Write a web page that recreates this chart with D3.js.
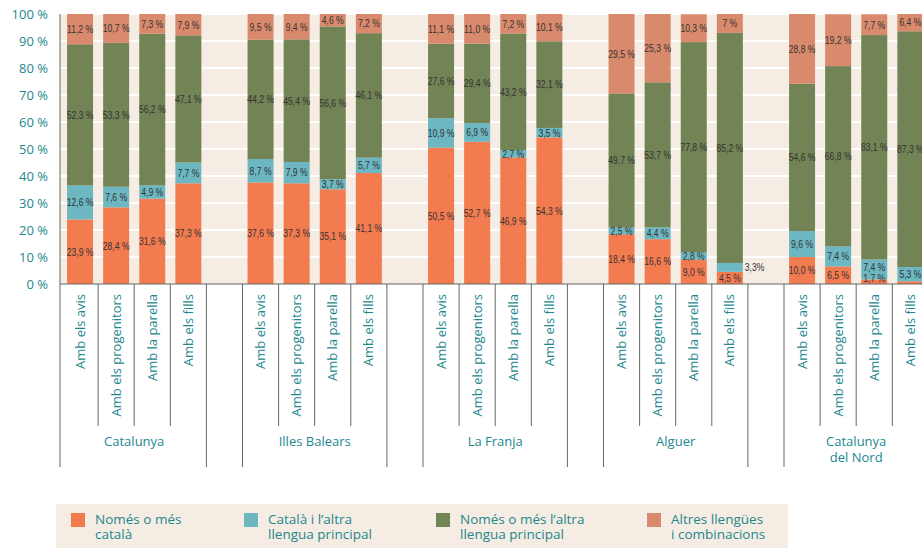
<!DOCTYPE html>
<html>
<head>
<meta charset="utf-8">
<script src="https://cdn.jsdelivr.net/npm/d3@7"></script>
<style>
  body { margin: 0; background: #fff; }
  svg { display: block; }
</style>
</head>
<body>
<script>
// territoris i relacions
const groups = [["Catalunya"], ["Illes Balears"], ["La Franja"], ["Alguer"], ["Catalunya", "del Nord"]];
const relations = ["Amb els avis", "Amb els progenitors", "Amb la parella", "Amb els fills"];

// valors (%), 4 barres per territori, en ordre
const nomesCatala = [23.9, 28.4, 31.6, 37.3, 37.6, 37.3, 35.1, 41.1, 50.5, 52.7, 46.9, 54.3, 18.4, 16.6, 9.0, 4.5, 10.0, 6.5, 1.7, 1.0];
const catalaAltra = [12.6, 7.6, 4.9, 7.7, 8.7, 7.9, 3.7, 5.7, 10.9, 6.9, 2.7, 3.5, 2.5, 4.4, 2.8, 3.3, 9.6, 7.4, 7.4, 5.3];
const nomesAltra = [52.3, 53.3, 56.2, 47.1, 44.2, 45.4, 56.6, 46.1, 27.6, 29.4, 43.2, 32.1, 49.7, 53.7, 77.8, 85.2, 54.6, 66.8, 83.1, 87.3];
const altres = [11.2, 10.7, 7.3, 7.9, 9.5, 9.4, 4.6, 7.2, 11.1, 11.0, 7.2, 10.1, 29.5, 25.3, 10.3, 7, 28.8, 19.2, 7.7, 6.4];

const seriesLabels = [["Només o més", "català"], ["Català i l’altra", "llengua principal"], ["Només o més l’altra", "llengua principal"], ["Altres llengües", "i combinacions"]];
const colors = ["#f37b50", "#6cb7c2", "#728355", "#d98a6c"];
const yTicks = [0, 10, 20, 30, 40, 50, 60, 70, 80, 90, 100];

// etiquetes especials: [sèrie, barra, text, fora]
const labelNotes = [
  [3, 15, "7 %", false],
  [1, 15, "3,3%", true],
];

const W = 922, H = 548;
const teal = "#1d878e";
const svg = d3.select("body").append("svg").attr("width", W).attr("height", H);

const y = d3.scaleLinear().domain([0, 100]).range([284, 14]);

// franges: 4 barres + un buit entre territoris
const slots = [];
groups.forEach((g, gi) => {
  relations.forEach((r, ri) => slots.push({ key: `${gi}-${ri}`, gi, ri, idx: gi * 4 + ri }));
  if (gi < groups.length - 1) slots.push({ key: `gap${gi}`, gi, ri: -1 });
});
const step = 36.1;
const x = d3.scaleBand().domain(slots.map((d) => d.key)).range([62, 62 + slots.length * step]);
const barW = 26;
const bars = slots.filter((d) => d.ri >= 0);

// fons
svg.append("rect").attr("x", 60).attr("y", 14).attr("width", W - 60).attr("height", 270).attr("fill", "#f5ede3");

svg.append("g")
  .selectAll("line")
  .data(yTicks.slice(1))
  .join("line")
  .attr("x1", 60).attr("x2", W)
  .attr("y1", (d) => y(d)).attr("y2", (d) => y(d))
  .attr("stroke", "#fff").attr("stroke-width", 2);

// eix y
const yAxis = svg.append("g")
  .attr("transform", "translate(60,0)")
  .call(d3.axisLeft(y).tickValues(yTicks).tickFormat((d) => d + " %").tickSize(0).tickPadding(12));
yAxis.select(".domain").remove();
yAxis.selectAll("text")
  .attr("fill", teal)
  .style("font-family", "'Open Sans', sans-serif")
  .style("font-size", "13px");

// apilat
const series = [nomesCatala, catalaAltra, nomesAltra, altres];
const segs = [];
bars.forEach((b) => {
  let acc = 0;
  series.forEach((s, si) => {
    const v = s[b.idx];
    const y0 = Math.min(acc, 100);
    const y1 = Math.min(acc + v, 100);
    segs.push({ b, si, v, y0, y1 });
    acc += v;
  });
});

svg.append("g")
  .selectAll("rect")
  .data(segs)
  .join("rect")
  .attr("x", (d) => x(d.b.key) + (x.bandwidth() - barW) / 2)
  .attr("width", barW)
  .attr("y", (d) => y(d.y1))
  .attr("height", (d) => y(d.y0) - y(d.y1))
  .attr("fill", (d) => colors[d.si]);

// etiquetes de valor
const fmt = (v) => d3.format(".1f")(v).replace(".", ",") + " %";
const labels = [];
bars.forEach((b) => {
  let prevY = y(0) - 6 + 11;
  segs.filter((s) => s.b === b).forEach((s) => {
    if (s.v < 1.5) return;
    const note = labelNotes.find((n) => n[0] === s.si && n[1] === b.idx);
    const outside = note ? note[3] : false;
    let cy = (y(s.y0) + y(s.y1)) / 2;
    if (!outside) {
      cy = Math.min(cy, prevY - 11);
      prevY = cy;
    }
    const cx = x(b.key) + x.bandwidth() / 2;
    labels.push({
      text: note ? note[2] : fmt(s.v),
      x: outside ? cx + barW / 2 + 2 : cx,
      y: cy,
      anchor: outside ? "start" : "middle",
    });
  });
});

// lletra estreta: s'escala en horitzontal
svg.append("g")
  .selectAll("text")
  .data(labels)
  .join("text")
  .attr("transform", (d) => `translate(${d.x},${d.y}) scale(0.78,1)`)
  .attr("dy", "0.35em")
  .attr("text-anchor", (d) => d.anchor)
  .attr("fill", "#333")
  .style("font-family", "'Liberation Sans', Arial, sans-serif")
  .style("font-size", "11px")
  .text((d) => d.text);

// línies dels eixos
svg.append("line").attr("x1", 60).attr("x2", 60).attr("y1", 14).attr("y2", 467).attr("stroke", "#666");
svg.append("line").attr("x1", 60).attr("x2", W).attr("y1", 284).attr("y2", 284).attr("stroke", "#666");

// separadors de categoria
svg.append("g")
  .selectAll("line")
  .data(bars.filter((b) => b.ri > 0))
  .join("line")
  .attr("x1", (d) => x(d.key)).attr("x2", (d) => x(d.key))
  .attr("y1", 284).attr("y2", 426)
  .attr("stroke", "#666");

const groupEdges = [];
groups.forEach((g, gi) => {
  const first = x(`${gi}-0`);
  const last = x(`${gi}-3`) + x.bandwidth();
  if (gi > 0) groupEdges.push(first);
  groupEdges.push(last);
});
svg.append("g")
  .selectAll("line")
  .data(groupEdges)
  .join("line")
  .attr("x1", (d) => d).attr("x2", (d) => d)
  .attr("y1", 284).attr("y2", 467)
  .attr("stroke", "#666");

// etiquetes de relació (girades)
svg.append("g")
  .selectAll("text")
  .data(bars)
  .join("text")
  .attr("transform", (d) => `translate(${x(d.key) + x.bandwidth() / 2},294) rotate(-90)`)
  .attr("dy", "0.35em")
  .attr("text-anchor", "end")
  .attr("fill", teal)
  .style("font-family", "'Open Sans', sans-serif")
  .style("font-size", "13px")
  .text((d) => relations[d.ri]);

// etiquetes de territori
const gl = svg.append("g")
  .selectAll("text")
  .data(groups)
  .join("text")
  .attr("x", (d, gi) => (x(`${gi}-0`) + x(`${gi}-3`) + x.bandwidth()) / 2)
  .attr("y", 446)
  .attr("text-anchor", "middle")
  .attr("fill", teal)
  .style("font-family", "'Open Sans', sans-serif")
  .style("font-size", "13px");
gl.selectAll("tspan")
  .data((d) => d)
  .join("tspan")
  .attr("x", function () { return this.parentNode.getAttribute("x"); })
  .attr("dy", (d, i) => (i === 0 ? 0 : 16))
  .text((d) => d);

// llegenda
svg.append("rect").attr("x", 56).attr("y", 504).attr("width", 732).attr("height", 44).attr("fill", "#f5ede3");
const legX = [71, 244, 436, 647];
const leg = svg.append("g")
  .selectAll("g")
  .data(seriesLabels)
  .join("g")
  .attr("transform", (d, i) => `translate(${legX[i]},513)`);
leg.append("rect").attr("width", 14).attr("height", 14).attr("fill", (d, i) => colors[i]);
leg.append("text")
  .attr("x", 24)
  .attr("fill", teal)
  .style("font-family", "'Open Sans', sans-serif")
  .style("font-size", "13.5px")
  .selectAll("tspan")
  .data((d) => d)
  .join("tspan")
  .attr("x", 24)
  .attr("y", (d, i) => 11 + i * 15)
  .text((d) => d);
</script>
</body>
</html>
